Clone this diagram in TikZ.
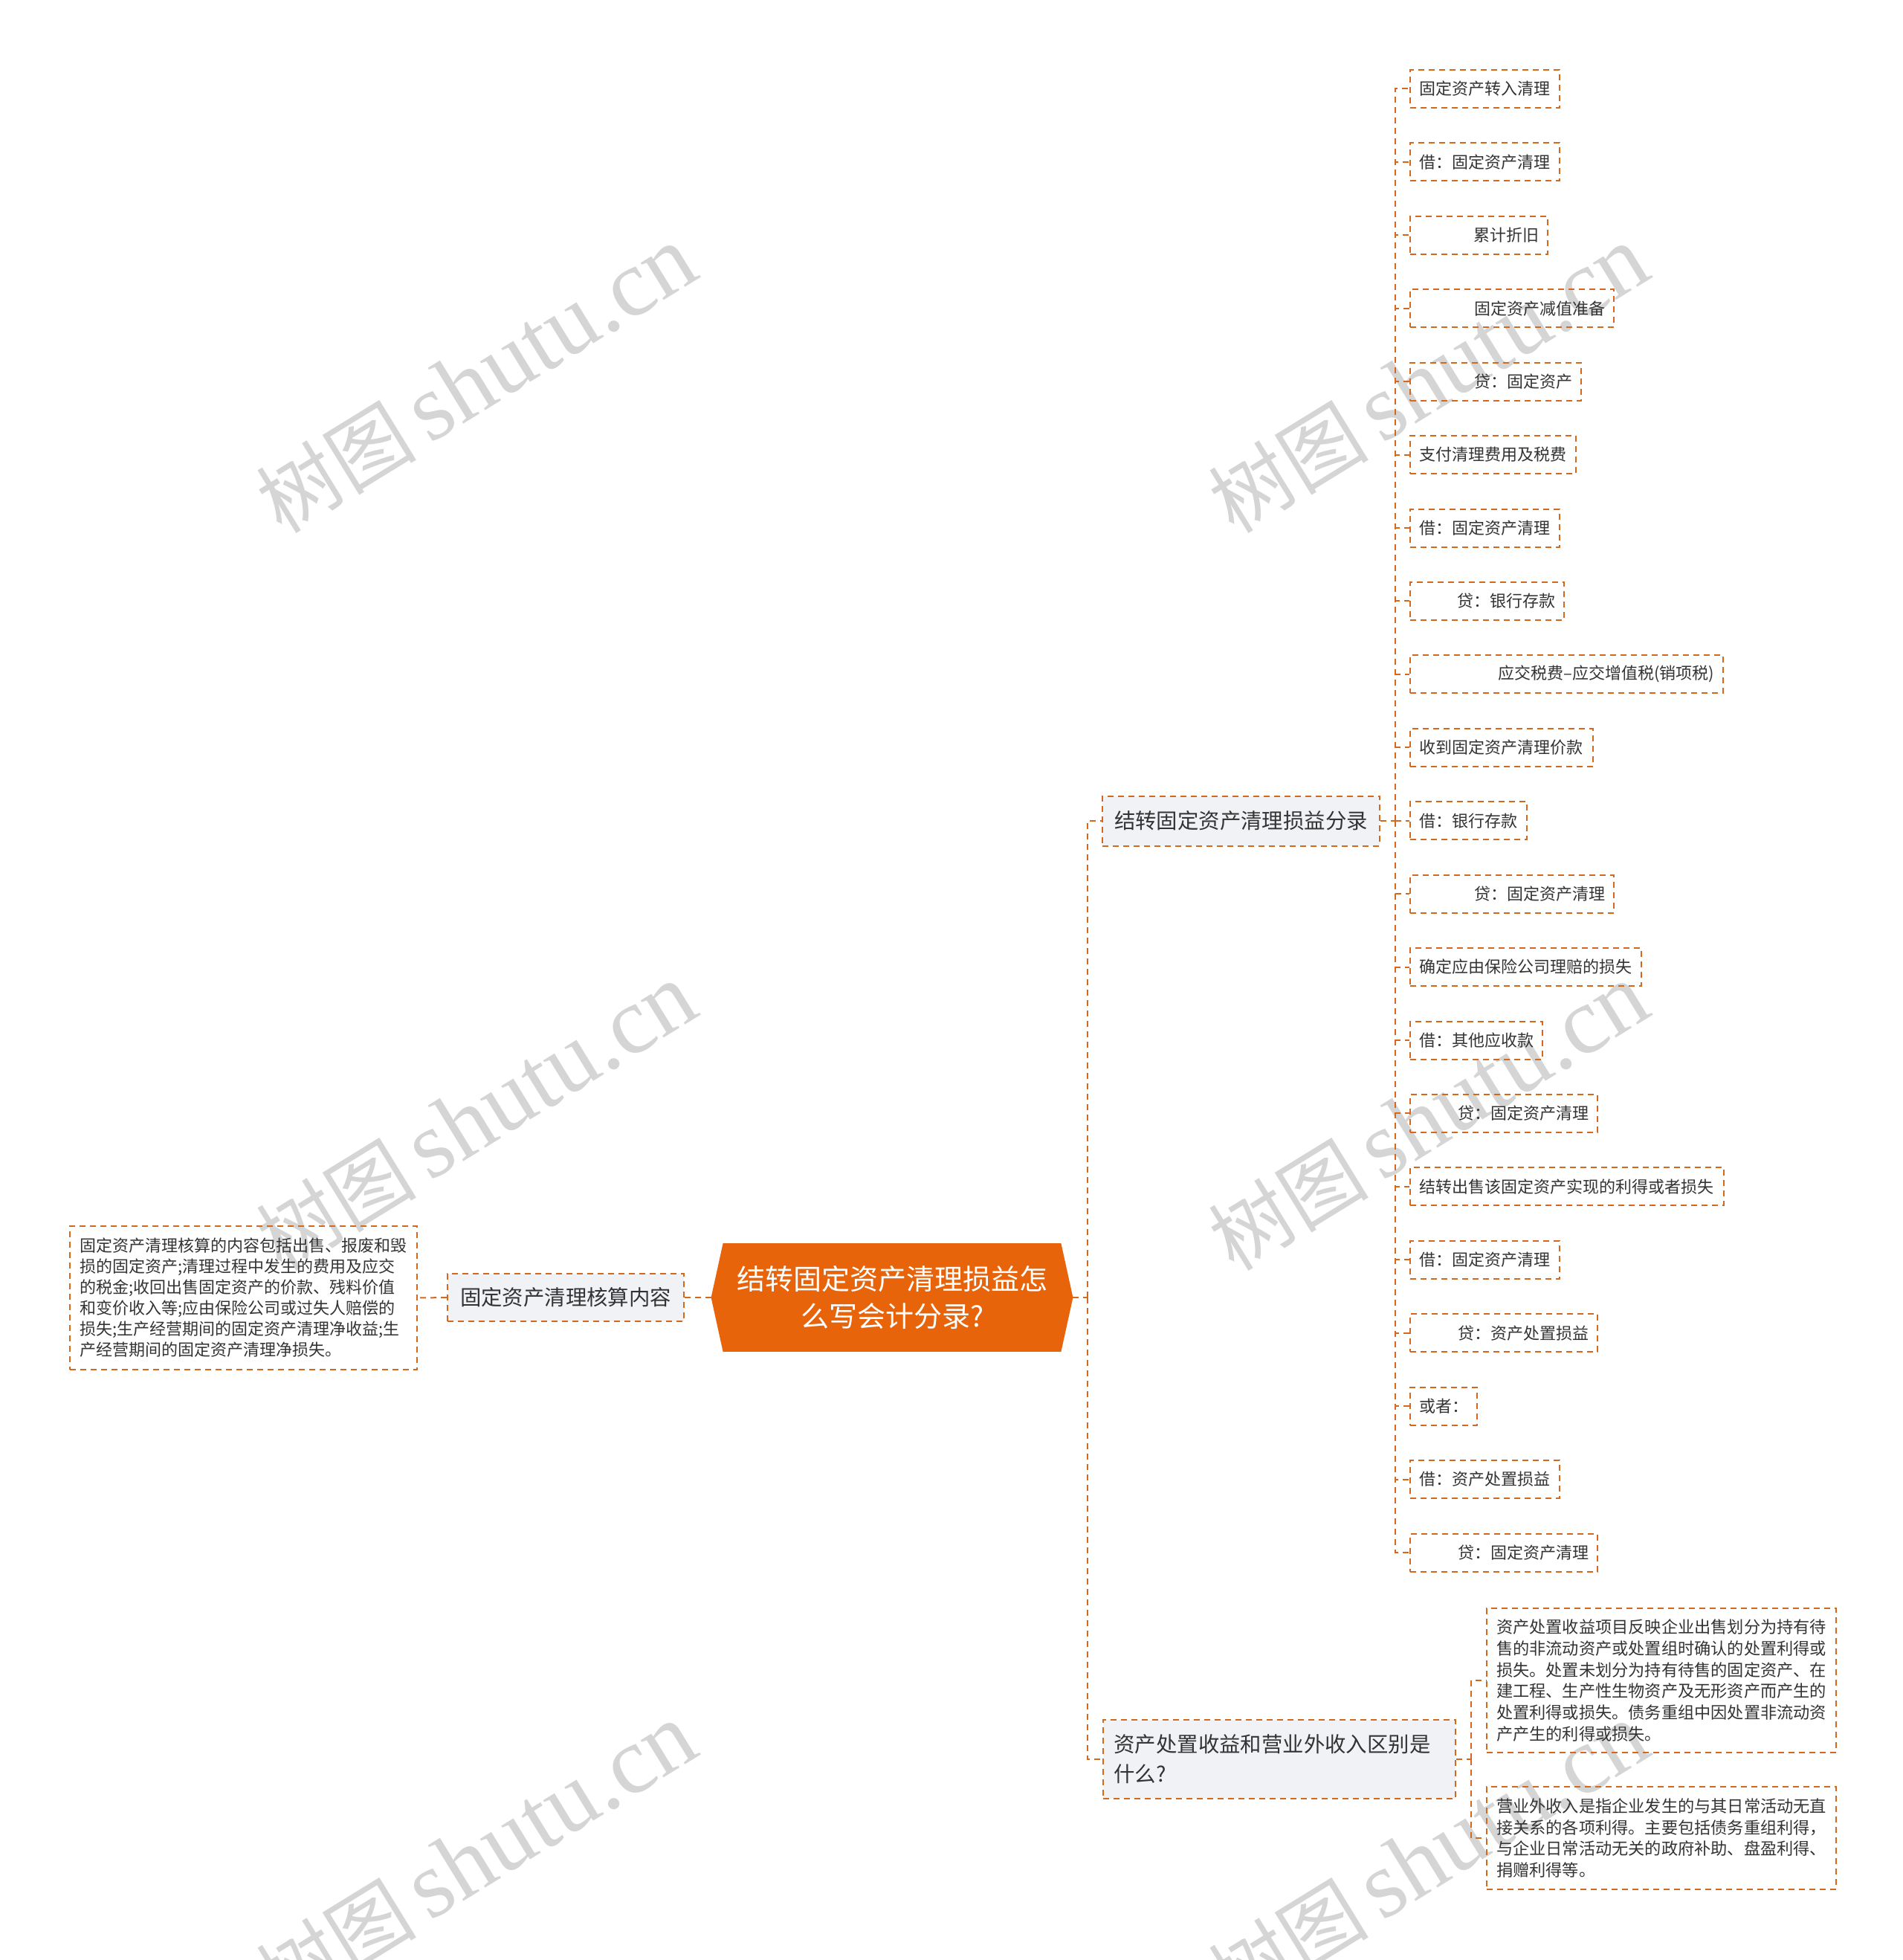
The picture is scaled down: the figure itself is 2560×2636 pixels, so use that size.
\documentclass[tikz,border=0pt]{standalone}
\usepackage{fontspec}
\setmainfont{Noto Sans CJK SC}
\newfontfamily\wmserif{Liberation Serif}
\usetikzlibrary{backgrounds}
\definecolor{orng}{HTML}{E8640A}
\definecolor{lnclr}{HTML}{D2691E}
\definecolor{bfill}{HTML}{F0F2F5}
\definecolor{txt}{HTML}{333333}
\definecolor{wmc}{HTML}{D5D5D5}
\begin{document}
\begin{tikzpicture}[x=0.5pt,y=-0.5pt,
  conn/.style={draw=lnclr, line width=1pt, dash pattern=on 4pt off 3pt},
  boxd/.style={draw=lnclr, line width=1pt, dash pattern=on 4pt off 3pt, text=txt},
  leaf/.style={boxd, anchor=west, font=\fontsize{11pt}{14pt}\selectfont, minimum height=25.5pt, inner xsep=6pt, inner ysep=0pt},
  leafl/.style={leaf, text width=#1, align=left},
  leafr/.style={leaf, text width=#1, align=right},
  branch/.style={boxd, fill=bfill, font=\fontsize{14.2pt}{20pt}\selectfont, inner ysep=0pt},
  wmark/.style={text=wmc, rotate=31.6, inner sep=0pt}
]
\useasboundingbox (0,0) rectangle (2560,2636);

% root
\node[minimum width=243pt, minimum height=72.5pt, inner sep=0pt, text=white, font=\fontsize{19pt}{25pt}\selectfont, align=center] (root) at (1200,1745) {结转固定资产清理损益怎\\么写会计分录?};

\begin{scope}[on background layer]
  \foreach \wx/\wy/\wn in {641/511/w1, 1922/511/w2, 641/1503/w3, 1922/1503/w4, 641/2498/w5, 1922/2498/w6}{
    \node[wmark] (\wn) at (\wx,\wy) {\fontsize{54pt}{58pt}\selectfont 树图\,\wmserif\fontsize{64pt}{68pt}\selectfont shutu.cn};
  }
  \fill[orng] (root.west) -- ([xshift=8pt]root.north west) -- ([xshift=-8pt]root.north east) -- (root.east) -- ([xshift=-8pt]root.south east) -- ([xshift=8pt]root.south west) -- cycle;
\end{scope}

% left side
\node[branch, inner xsep=8.5pt, minimum height=32pt] (lb) at (761,1745) {固定资产清理核算内容};
\node[boxd, font=\fontsize{11pt}{14pt}\selectfont, align=left, inner xsep=6.75pt, minimum height=96.5pt] (desc) at (327.5,1745.5) {固定资产清理核算的内容包括出售、报废和毁\\损的固定资产;清理过程中发生的费用及应交\\的税金;收回出售固定资产的价款、残料价值\\和变价收入等;应由保险公司或过失人赔偿的\\损失;生产经营期间的固定资产清理净收益;生\\产经营期间的固定资产清理净损失。};
\draw[conn] (root.west) -- (lb.east);
\draw[conn] (lb.west) -- (desc.east);

% right branches
\node[branch, inner xsep=8pt, minimum height=33.5pt] (b1) at (1669.5,1104) {结转固定资产清理损益分录};
\node[branch, inner xsep=7.5pt, minimum height=53pt, text width=222pt, align=left] (b2) at (1720.5,2366) {资产处置收益和营业外收入区别是\\什么?};
\coordinate (j1) at ([xshift=10pt]root.east);
\draw[conn] (root.east) -- (j1);
\draw[conn] (j1) |- (b1.west);
\draw[conn] (j1) |- (b2.west);

% leaves of branch 1
\node[leafl=88.5pt]  (L0)  at (1896,119.4)  {固定资产转入清理};
\node[leafl=88.5pt]  (L1)  at (1896,217.8)  {借：固定资产清理};
\node[leafr=80.5pt]  (L2)  at (1896,316.3)  {累计折旧};
\node[leafr=125pt]   (L3)  at (1896,414.7)  {固定资产减值准备};
\node[leafr=103pt]   (L4)  at (1896,513.1)  {贷：固定资产};
\node[leafl=99.5pt]  (L5)  at (1896,611.6)  {支付清理费用及税费};
\node[leafl=88.5pt]  (L6)  at (1896,710.0)  {借：固定资产清理};
\node[leafr=91.5pt]  (L7)  at (1896,808.4)  {贷：银行存款};
\node[leafr=198.5pt] (L8)  at (1896,906.8)  {应交税费–应交增值税(销项税)};
\node[leafl=111pt]   (L9)  at (1896,1005.3) {收到固定资产清理价款};
\node[leafl=66.5pt]  (L10) at (1896,1103.7) {借：银行存款};
\node[leafr=125pt]   (L11) at (1896,1202.1) {贷：固定资产清理};
\node[leafl=143.5pt] (L12) at (1896,1300.6) {确定应由保险公司理赔的损失};
\node[leafl=77pt]    (L13) at (1896,1399.0) {借：其他应收款};
\node[leafr=114pt]   (L14) at (1896,1497.4) {贷：固定资产清理};
\node[leafl=199pt]   (L15) at (1896,1595.9) {结转出售该固定资产实现的利得或者损失};
\node[leafl=88.5pt]  (L16) at (1896,1694.3) {借：固定资产清理};
\node[leafr=114pt]   (L17) at (1896,1792.7) {贷：资产处置损益};
\node[leafl=33pt]    (L18) at (1896,1891.1) {或者：};
\node[leafl=88.5pt]  (L19) at (1896,1989.6) {借：资产处置损益};
\node[leafr=114pt]   (L20) at (1896,2088.0) {贷：固定资产清理};
\coordinate (j2) at ([xshift=10pt]b1.east);
\draw[conn] (b1.east) -- (j2);
\foreach \i in {0,...,20}{
  \draw[conn] (j2) |- (L\i.west);
}

% leaves of branch 2
\node[boxd, font=\fontsize{11.1pt}{14.35pt}\selectfont, align=left, inner xsep=6.5pt, minimum height=97pt] (la) at (2235,2260) {资产处置收益项目反映企业出售划分为持有待\\售的非流动资产或处置组时确认的处置利得或\\损失。处置未划分为持有待售的固定资产、在\\建工程、生产性生物资产及无形资产而产生的\\处置利得或损失。债务重组中因处置非流动资\\产产生的利得或损失。};
\node[boxd, font=\fontsize{11.1pt}{14.2pt}\selectfont, align=left, inner xsep=6.5pt, minimum height=69pt] (lbb) at (2235,2472) {营业外收入是指企业发生的与其日常活动无直\\接关系的各项利得。主要包括债务重组利得，\\与企业日常活动无关的政府补助、盘盈利得、\\捐赠利得等。};
\coordinate (j3) at ([xshift=10pt]b2.east);
\draw[conn] (b2.east) -- (j3);
\draw[conn] (j3) |- (la.west);
\draw[conn] (j3) |- (lbb.west);
\end{tikzpicture}
\end{document}
